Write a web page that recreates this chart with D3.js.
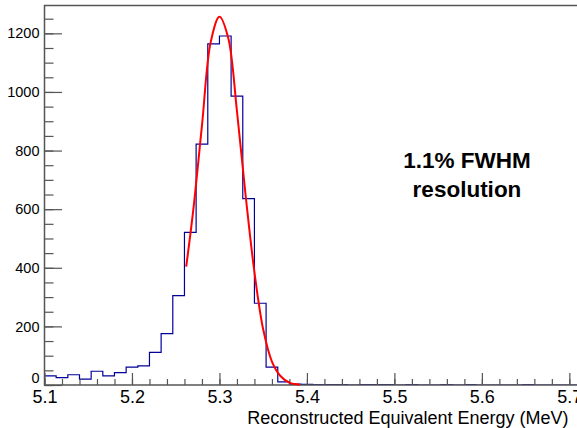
<!DOCTYPE html>
<html>
<head>
<meta charset="utf-8">
<script src="https://cdn.jsdelivr.net/npm/d3@7"></script>
<style>
  body { margin: 0; background: #fff; }
  svg { display: block; font-family: 'Liberation Sans', Arial, sans-serif; }
</style>
</head>
<body>
<div id="chart"></div>
<script>
// Histogram: bins of 1/75 MeV starting at 5.1 MeV
var binStart = 5.1
var binWidth = 1 / 75
var counts = [31, 25, 35, 20, 47, 31, 42, 61, 65, 111, 175, 305, 521, 822, 1164,
  1191, 986, 636, 279, 61, 11, 3, 2, 1, 1, 1, 0, 1, 1, 1, 0, 1, 0, 0, 1, 0, 1,
  0, 0, 0, 0, 1, 0, 0, 0, 0]

// Gaussian fit
var fitX = [5.262, 5.270, 5.280, 5.290, 5.300, 5.310, 5.320, 5.330, 5.340,
  5.350, 5.360, 5.370, 5.380, 5.392]
var fitY = [404, 595, 885, 1170, 1257, 1185, 935, 645, 385, 190, 80, 30, 8, 1]

var xTicks = [5.1, 5.2, 5.3, 5.4, 5.5, 5.6, 5.7]
var yTicks = [0, 200, 400, 600, 800, 1000, 1200]
var annotation = ['1.1% FWHM', 'resolution']
var xTitle = 'Reconstructed Equivalent Energy (MeV)'

;(function () {
  'use strict'

  // Dimensions
  var w = 577
  var h = 428
  var pLeft = 44.5
  var pTop = 5.5
  var pBottom = 385
  var pRight = 581
  var axisColor = '#555'
  var font = 'Liberation Sans, Arial, sans-serif'

  var x = d3.scaleLinear()
    .domain([binStart, binStart + counts.length * binWidth])
    .range([pLeft, pRight])
  var y = d3.scaleLinear().domain([0, 1295]).range([pBottom, pTop])

  var svg = d3.select('#chart').append('svg')
    .attr('width', w)
    .attr('height', h)

  svg.append('defs').append('clipPath').attr('id', 'plot')
    .append('rect')
    .attr('x', pLeft).attr('y', pTop)
    .attr('width', pRight - pLeft).attr('height', pBottom - pTop)

  // Histogram outline
  var steps = counts.map(function (c, i) { return [binStart + i * binWidth, c] })
  steps.push([binStart + counts.length * binWidth, counts[counts.length - 1]])

  svg.append('path')
    .datum(steps)
    .attr('clip-path', 'url(#plot)')
    .attr('fill', 'none')
    .attr('stroke', '#000099')
    .attr('stroke-width', 1.2)
    .attr('d', d3.line()
      .x(function (d) { return x(d[0]) })
      .y(function (d) { return y(d[1]) })
      .curve(d3.curveStepAfter))

  // Axes (ticks inside the frame)
  svg.append('g')
    .attr('transform', 'translate(0,' + pBottom + ')')
    .call(d3.axisBottom(x).tickValues(x.ticks(30)).tickSize(-6).tickSizeOuter(0)
      .tickFormat(''))
  var xMajor = svg.append('g')
    .attr('transform', 'translate(0,' + pBottom + ')')
    .call(d3.axisBottom(x).tickValues(xTicks).tickSize(-12).tickSizeOuter(0)
      .tickPadding(5).tickFormat(d3.format('.1f')))

  svg.append('g')
    .attr('transform', 'translate(' + pLeft + ',0)')
    .call(d3.axisLeft(y).tickValues(y.ticks(26)).tickSize(-9).tickSizeOuter(0)
      .tickFormat(''))
  var yMajor = svg.append('g')
    .attr('transform', 'translate(' + pLeft + ',0)')
    .call(d3.axisLeft(y).tickValues(yTicks).tickSize(-17.5).tickSizeOuter(0)
      .tickPadding(5).tickFormat(d3.format('d')))

  svg.selectAll('.domain').remove()
  svg.selectAll('.tick line').attr('stroke', axisColor).attr('stroke-width', 1.2)
  xMajor.selectAll('text').attr('font-size', 18).attr('fill', '#000')
    .attr('font-family', font)
  yMajor.selectAll('text').attr('font-size', 14.5).attr('fill', '#000')
    .attr('font-family', font)
  yMajor.selectAll('.tick').filter(function (d) { return d === 0 })
    .select('text').attr('dy', '-0.2em')

  // Frame
  svg.append('path')
    .attr('fill', 'none')
    .attr('stroke', axisColor)
    .attr('stroke-width', 1.5)
    .attr('d', 'M' + (pRight + 2) + ',' + pTop + 'H' + pLeft + 'V' + pBottom +
      'H' + (pRight + 2))

  // Fit curve
  svg.append('path')
    .datum(fitX.map(function (v, i) { return [v, fitY[i]] }))
    .attr('fill', 'none')
    .attr('stroke', '#ff0000')
    .attr('stroke-width', 2)
    .attr('d', d3.line()
      .x(function (d) { return x(d[0]) })
      .y(function (d) { return y(d[1]) })
      .curve(d3.curveCatmullRom))

  // Annotation
  svg.append('text')
    .attr('x', 467)
    .attr('y', 168)
    .attr('text-anchor', 'middle')
    .attr('font-size', 22.5)
    .attr('font-weight', 'bold')
    .selectAll('tspan').data(annotation).enter().append('tspan')
    .attr('x', 467)
    .attr('dy', function (d, i) { return i === 0 ? 0 : 29 })
    .text(function (d) { return d })

  // Axis title
  svg.append('text')
    .attr('x', 568.5)
    .attr('y', 424)
    .attr('text-anchor', 'end')
    .attr('font-size', 18)
    .text(xTitle)
}())
</script>
</body>
</html>
